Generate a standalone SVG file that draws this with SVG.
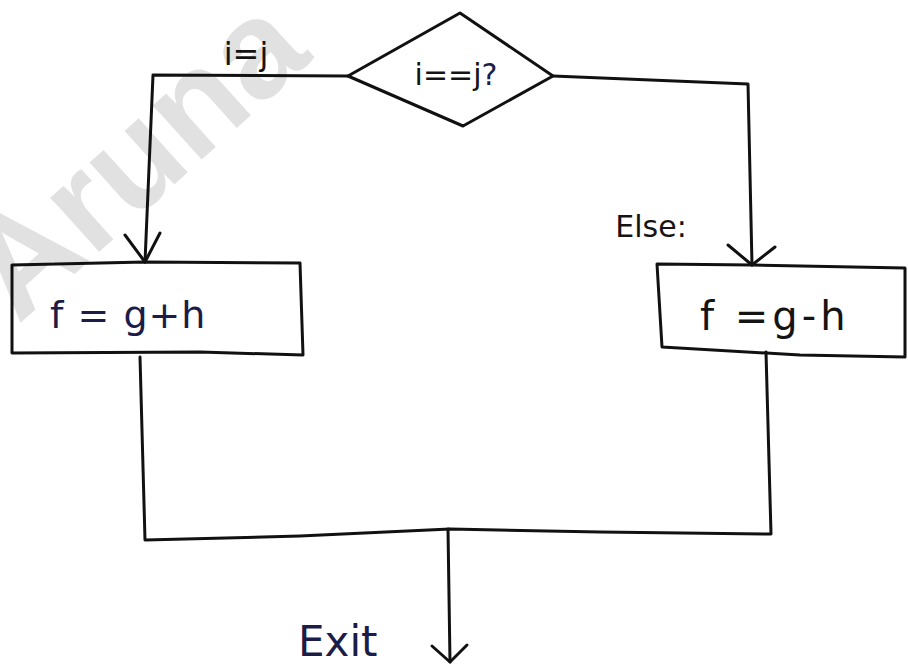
<svg xmlns="http://www.w3.org/2000/svg" width="908" height="666" viewBox="0 0 908 666">
<style>
.ln{fill:none;stroke:#111;stroke-width:3;stroke-linecap:round;stroke-linejoin:round}
.tx{font-family:"DejaVu Sans","Liberation Sans",sans-serif;fill:#141414}
.bl{fill:#1c1c48}
.wm{font-family:"Liberation Sans","DejaVu Sans",sans-serif;font-weight:bold;fill:#e1e1e1}
</style>
<rect width="908" height="666" fill="#fff"/>
<text class="wm" x="18" y="325" font-size="138" transform="rotate(-42 18 325)">Aruna</text>
<g id="connectors">
<path class="ln" d="M348,76 L153,75 L145,262"/>
<path class="ln" d="M125,235 L145,262 L160,233"/>
<path class="ln" d="M553,76 L748,84 L752,265"/>
<path class="ln" d="M728,245 L752,265 L775,247"/>
<path class="ln" d="M140,357 L145,540 L300,536 L450,529 L600,532 L771,534 L766,352"/>
<path class="ln" d="M448,529 L450,662"/>
<path class="ln" d="M432,646 L450,662 L467,645"/>
</g>
<g id="decision">
<path class="ln" d="M460,13 L553,76 L463,126 L348,76 Z"/>
<text class="tx" x="456" y="85" font-size="30" text-anchor="middle">i==j<tspan class="bl">?</tspan></text>
</g>
<g id="label-yes">
<text class="tx" x="246" y="65" font-size="32" text-anchor="middle">i=j</text>
</g>
<g id="label-else">
<text class="tx" x="651" y="237" font-size="30" text-anchor="middle">Else:</text>
</g>
<g id="box-add">
<path class="ln" d="M12,265 L145,262 L300,263 L303,355 L200,352 L12,353 Z"/>
<text class="tx bl" x="50" y="328" font-size="38" letter-spacing="1">f = g+h</text>
</g>
<g id="box-sub">
<path class="ln" d="M657,264 L752,265 L905,268 L905,357 L800,355 L662,347 Z"/>
<text class="tx" x="700" y="330" font-size="40" letter-spacing="4">f =g-h</text>
</g>
<g id="exit">
<text class="tx bl" x="298" y="656" font-size="42">Exit</text>
</g>
</svg>
